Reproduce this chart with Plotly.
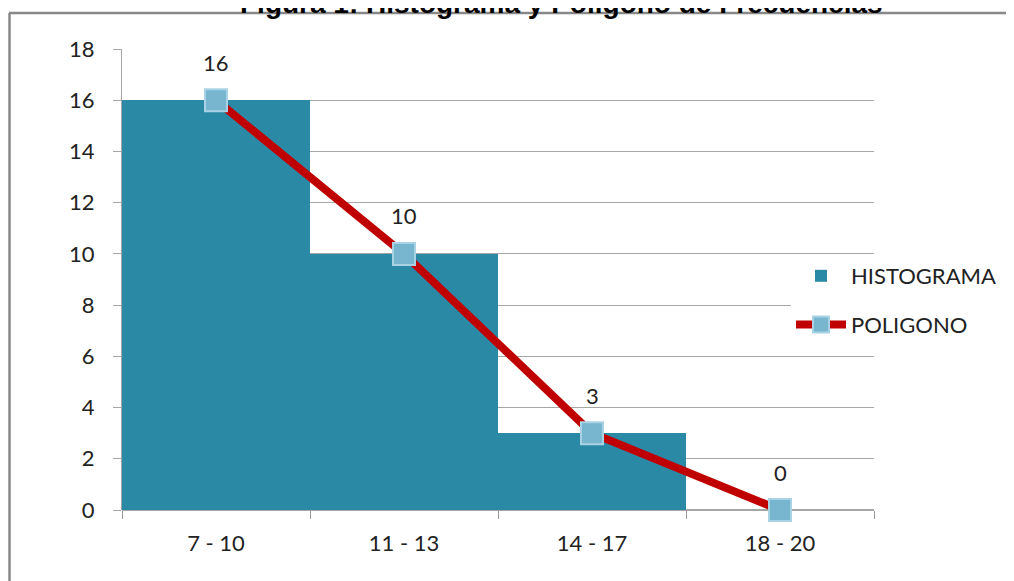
import plotly.graph_objects as go

categories = ["7 - 10", "11 - 13", "14 - 17", "18 - 20"]
histograma = [16, 10, 3, 0]
poligono = [16, 10, 3, 0]
y_ticks = [0, 2, 4, 6, 8, 10, 12, 14, 16, 18]
title_text = "Figura 1: Histograma y Poligono de Frecuencias"

OFF = 8  # page body margin
W, H = 1014, 581
L, T = 122 - OFF, 49 - OFF
R = W - (874 - OFF)
B = H - (510 - OFF)
PW, PH = W - L - R, H - T - B

def px_x(p):
    return (p - OFF - L) / PW

def px_y(p):
    return (H - B - (p - OFF)) / PH

FONT = "Lato, Open Sans, sans-serif"
FS = 22

fig = go.Figure()
fig.add_trace(go.Bar(
    x=categories, y=histograma, name="HISTOGRAMA", legendgroup="h",
    marker=dict(color="#2a8aa6", line=dict(width=0)),
))
fig.add_trace(go.Scatter(
    x=categories, y=poligono, name="POLIGONO", mode="lines+markers", legendgroup="p",
    line=dict(color="#c00000", width=8),
    marker=dict(symbol="square", size=22, color="#78b6d0",
                line=dict(color="#a9d3e5", width=2)),
    cliponaxis=False,
))

for c, v in zip(categories, poligono):
    fig.add_annotation(x=c, y=v, text=str(v), showarrow=False, yshift=38,
                       font=dict(family=FONT, size=FS, color="#222"))

fig.add_annotation(xref="paper", yref="paper", x=px_x(561), y=px_y(21),
                   xanchor="center", yanchor="bottom", text="<b>" + title_text + "</b>",
                   showarrow=False,
                   font=dict(family="Liberation Sans, Arial", size=28, color="#000"))

fig.add_shape(type="line", xref="paper", yref="paper",
              x0=px_x(9), x1=px_x(1030), y0=px_y(13), y1=px_y(13),
              line=dict(color="#888", width=2.5))
fig.add_shape(type="line", xref="paper", yref="paper",
              x0=px_x(9.5), x1=px_x(9.5), y0=px_y(13), y1=px_y(600),
              line=dict(color="#888", width=2.5))

fig.update_layout(
    width=W, height=H,
    margin=dict(l=L, r=R, t=T, b=B),
    paper_bgcolor="white", plot_bgcolor="white",
    bargap=0,
    showlegend=True,
    legend=dict(x=px_x(791), y=px_y(255), xanchor="left", yanchor="top",
                font=dict(family=FONT, size=FS, color="#222"),
                tracegroupgap=17, itemwidth=50),
    font=dict(family=FONT, size=FS, color="#222"),
)
fig.update_xaxes(
    type="category", showgrid=False, showline=False,
    ticks="outside", tickson="boundaries", ticklen=8, tickcolor="#999",
    ticklabelstandoff=18,
    tickfont=dict(family=FONT, size=FS, color="#222"),
)
fig.update_yaxes(
    range=[0, 18], tickvals=y_ticks, showgrid=True, gridcolor="#a6a6a6", gridwidth=1,
    showline=True, linecolor="#a6a6a6", linewidth=1,
    ticks="outside", ticklen=8, tickcolor="#a6a6a6",
    ticklabelstandoff=14,
    zeroline=True, zerolinecolor="#a6a6a6",
    tickfont=dict(family=FONT, size=FS, color="#222"),
)

fig.write_html("out.html")
